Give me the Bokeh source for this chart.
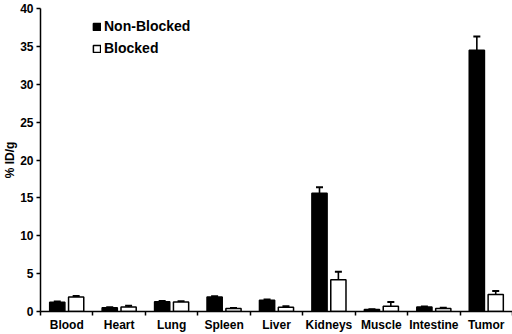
from bokeh.plotting import figure
from bokeh.models import FixedTicker, Range1d, Legend, LegendItem, ColumnDataSource
from bokeh.embed import file_html
from bokeh.resources import INLINE

organs = ["Blood", "Heart", "Lung", "Spleen", "Liver", "Kidneys", "Muscle", "Intestine", "Tumor"]
non_blocked = [1.22, 0.5, 1.3, 1.9, 1.5, 15.6, 0.25, 0.6, 34.5]
non_blocked_err = [0.1, 0.05, 0.1, 0.1, 0.1, 0.8, 0.05, 0.05, 1.8]
blocked = [1.9, 0.6, 1.25, 0.4, 0.55, 4.2, 0.7, 0.4, 2.25]
blocked_err = [0.15, 0.15, 0.1, 0.05, 0.15, 1.05, 0.55, 0.1, 0.45]
y_ticks = [0, 5, 10, 15, 20, 25, 30, 35, 40]

FONT = "Liberation Sans"
n = len(organs)
centers = [i + 0.5 for i in range(n)]
off = 0.18
bw = 0.29

p = figure(width=512, height=334, output_backend="svg", toolbar_location=None,
           x_range=Range1d(0, n), y_range=Range1d(0, 40),
           min_border_left=40, min_border_right=0, min_border_top=8, min_border_bottom=10)
p.outline_line_color = None
p.xgrid.visible = False
p.ygrid.visible = False
p.background_fill_color = "white"

xb = [c - off for c in centers]
xw = [c + off for c in centers]

src_b = ColumnDataSource(dict(x=xb, top=non_blocked, err=[v + e for v, e in zip(non_blocked, non_blocked_err)]))
src_w = ColumnDataSource(dict(x=xw, top=blocked, err=[v + e for v, e in zip(blocked, blocked_err)]))

# error bars (drawn first, bars on top)
for src in (src_b, src_w):
    p.segment(x0="x", y0="top", x1="x", y1="err", source=src, line_color="black", line_width=1.6)
    p.scatter(x="x", y="err", source=src, marker="dash", size=7, line_color="black", line_width=2)

rb = p.vbar(x="x", top="top", width=bw, source=src_b, fill_color="black", line_color="black", line_width=1.5)
rw = p.vbar(x="x", top="top", width=bw, source=src_w, fill_color="white", line_color="black", line_width=1.5)

# axes
p.xaxis.ticker = FixedTicker(ticks=centers, minor_ticks=list(range(n + 1)))
p.xaxis.major_label_overrides = {c: o for c, o in zip(centers, organs)}
p.xaxis.major_tick_out = 0
p.xaxis.major_tick_in = 0
p.xaxis.minor_tick_out = 4
p.xaxis.minor_tick_in = 0
p.xaxis.minor_tick_line_width = 1.5
p.xaxis.major_label_standoff = 2
p.xaxis.axis_label = None
p.xaxis.axis_label_standoff = 0

p.yaxis.ticker = FixedTicker(ticks=y_ticks)
p.yaxis.major_tick_out = 4
p.yaxis.major_tick_in = 0
p.yaxis.minor_tick_line_color = None
p.yaxis.major_label_standoff = 3
p.yaxis.axis_label = "% ID/g"
p.yaxis.axis_label_standoff = 0

for ax in (p.xaxis[0], p.yaxis[0]):
    ax.axis_line_width = 1.5
    ax.axis_line_color = "black"
    ax.major_tick_line_color = "black"
    ax.major_tick_line_width = 1.5
    ax.major_label_text_font = FONT
    ax.major_label_text_font_style = "bold"
    ax.major_label_text_font_size = "12px"
    ax.major_label_text_color = "black"
    ax.axis_label_text_font = FONT
    ax.axis_label_text_font_style = "bold"
    ax.axis_label_text_font_size = "12px"
    ax.axis_label_text_color = "black"

legend = Legend(items=[LegendItem(label="Non-Blocked", renderers=[rb]),
                       LegendItem(label="Blocked", renderers=[rw])],
                location=(52, 255))
legend.glyph_width = 9
legend.glyph_height = 9
legend.label_text_font = FONT
legend.label_text_font_style = "bold"
legend.label_text_font_size = "14px"
legend.label_text_color = "black"
legend.label_standoff = 3
legend.spacing = 6
legend.padding = 4
legend.border_line_color = None
legend.background_fill_alpha = 0
p.add_layout(legend)

open("out.html", "w").write(file_html(p, INLINE))
